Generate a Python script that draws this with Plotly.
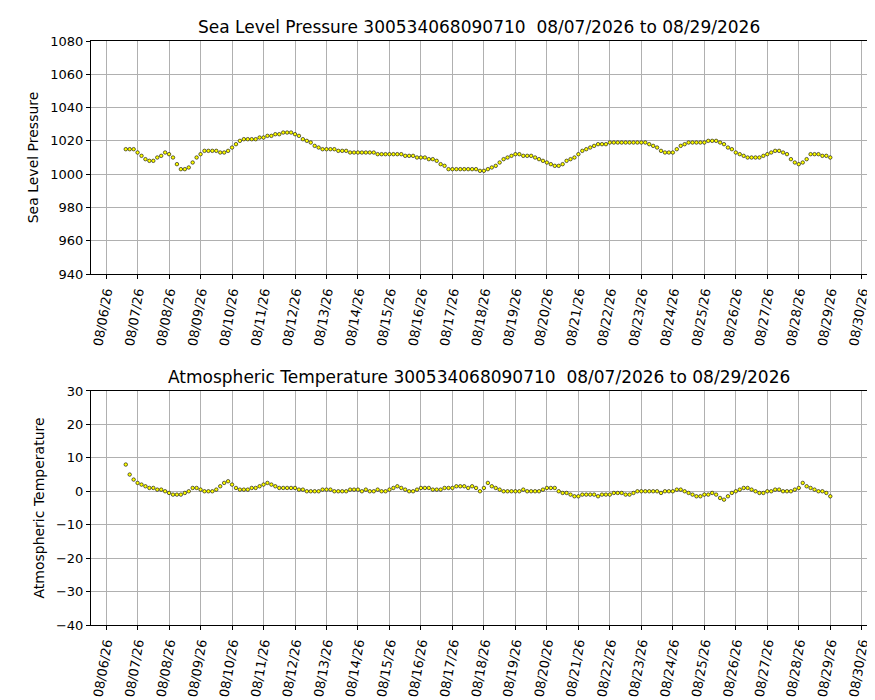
import pandas as pd
import plotly.graph_objects as go
from plotly.subplots import make_subplots

# 3-hourly samples from 08/06/2026 15:00 to 08/29/2026 00:00
times = pd.date_range("2026-08-06 15:00", "2026-08-29 00:00", freq="3h")

pressure = [
    1015, 1015, 1015,
    1013, 1011, 1009, 1008, 1008, 1010, 1011, 1013,
    1012, 1010, 1006, 1003, 1003, 1004, 1007, 1010,
    1012, 1014, 1014, 1014, 1014, 1013, 1013, 1014,
    1016, 1018, 1020, 1021, 1021, 1021, 1021, 1022,
    1022, 1023, 1023, 1024, 1024, 1025, 1025, 1025,
    1024, 1023, 1021, 1020, 1019, 1017, 1016, 1015,
    1015, 1015, 1015, 1014, 1014, 1014, 1013, 1013,
    1013, 1013, 1013, 1013, 1013, 1012, 1012, 1012,
    1012, 1012, 1012, 1012, 1011, 1011, 1011, 1010,
    1010, 1010, 1009, 1009, 1008, 1006, 1005, 1003,
    1003, 1003, 1003, 1003, 1003, 1003, 1003, 1002,
    1002, 1003, 1004, 1005, 1007, 1009, 1010, 1011,
    1012, 1012, 1011, 1011, 1011, 1010, 1009, 1008,
    1007, 1006, 1005, 1005, 1006, 1008, 1009, 1010,
    1012, 1014, 1015, 1016, 1017, 1018, 1018, 1018,
    1019, 1019, 1019, 1019, 1019, 1019, 1019, 1019,
    1019, 1019, 1018, 1017, 1016, 1014, 1013, 1013,
    1013, 1015, 1017, 1018, 1019, 1019, 1019, 1019,
    1019, 1020, 1020, 1020, 1019, 1018, 1016, 1015,
    1013, 1012, 1011, 1010, 1010, 1010, 1010, 1011,
    1012, 1013, 1014, 1014, 1013, 1012, 1009, 1007,
    1006, 1007, 1009, 1012, 1012, 1012, 1011, 1011,
    1010,
]

temperature = [
    8, 5, 3.5,
    2.5, 2, 1.5, 1, 1, 0.5, 0.5, 0,
    -0.5, -1, -1, -1, -0.5, 0, 1, 1,
    0.5, 0, 0, 0, 0.5, 1.5, 2.5, 3,
    2, 1, 0.5, 0.5, 0.5, 1, 1, 1.5,
    2, 2.5, 2, 1.5, 1, 1, 1, 1,
    1, 0.5, 0.5, 0, 0, 0, 0, 0.5,
    0.5, 0.5, 0, 0, 0, 0, 0.5, 0.5,
    0.5, 0, 0.5, 0, 0, 0.5, 0, 0,
    0.5, 1, 1.5, 1, 0.5, 0, 0, 0.5,
    1, 1, 1, 0.5, 0.5, 0.5, 1, 1,
    1, 1.5, 1.5, 1.5, 1, 1.5, 1, 0,
    1, 2.5, 1.5, 1, 0.5, 0, 0, 0,
    0, 0, 0.5, 0, 0, 0, 0, 0.5,
    1, 1, 1, 0, -0.5, -0.5, -1, -1.5,
    -1.5, -1, -1, -1, -1, -1.5, -1, -1,
    -1, -0.5, -0.5, -0.5, -1, -1, -0.5, 0,
    0, 0, 0, 0, 0, -0.5, 0, 0,
    0, 0.5, 0.5, 0, -0.5, -1, -1.5, -1.5,
    -1, -1, -0.5, -1, -2, -2.5, -1.5, -0.5,
    0, 0.5, 1, 1, 0.5, 0, -0.5, -0.5,
    0, 0, 0.5, 0.5, 0, 0, 0, 0.5,
    1, 2.5, 1.5, 1, 0.5, 0, 0, -0.5,
    -1.5,
]

tick_days = pd.date_range("2026-08-06", "2026-08-30", freq="D")
tick_text = [d.strftime("%m/%d/%y") for d in tick_days]

title_p = "Sea Level Pressure 300534068090710  08/07/2026 to 08/29/2026"
title_t = "Atmospheric Temperature 300534068090710  08/07/2026 to 08/29/2026"

fig = make_subplots(rows=2, cols=1)

marker = dict(size=3.5, color="yellow", line=dict(color="black", width=0.6))
fig.add_trace(go.Scatter(x=times, y=pressure, mode="markers", marker=marker), row=1, col=1)
fig.add_trace(go.Scatter(x=times, y=temperature, mode="markers", marker=marker), row=2, col=1)

xrange = [pd.Timestamp("2026-08-05 12:30"), pd.Timestamp("2026-08-30 04:00")]
axis_style = dict(
    showline=True, linecolor="black", linewidth=1, mirror=True,
    showgrid=True, gridcolor="#b0b0b0", gridwidth=1,
    ticks="outside", ticklen=4, tickcolor="black", automargin=False,
    zeroline=False, tickfont=dict(size=13, color="black"),
)
for r in (1, 2):
    fig.update_xaxes(range=xrange, tickvals=tick_days, ticktext=tick_text,
                     tickangle=-80, row=r, col=1, **axis_style)

fig.update_yaxes(range=[940, 1080], dtick=20, domain=[0.601, 1.0],
                 title=dict(text="Sea Level Pressure", font=dict(size=14), standoff=8),
                 row=1, col=1, **axis_style)
fig.update_yaxes(range=[-40, 30], dtick=10, domain=[0.0, 0.4007],
                 title=dict(text="Atmospheric Temperature", font=dict(size=14), standoff=8),
                 row=2, col=1, **axis_style)

fig.add_annotation(text=title_p, x=0.5, y=1.0, xref="paper", yref="paper",
                   yanchor="bottom", yshift=2, showarrow=False, font=dict(size=17, color="black"))
fig.add_annotation(text=title_t, x=0.5, y=0.4007, xref="paper", yref="paper",
                   yanchor="bottom", yshift=2, showarrow=False, font=dict(size=17, color="black"))

fig.update_layout(
    width=875, height=700,
    margin=dict(l=83, r=16, t=33, b=83),
    showlegend=False,
    paper_bgcolor="white", plot_bgcolor="white",
    font=dict(family="DejaVu Sans", color="black"),
)

fig.write_html("out.html")
